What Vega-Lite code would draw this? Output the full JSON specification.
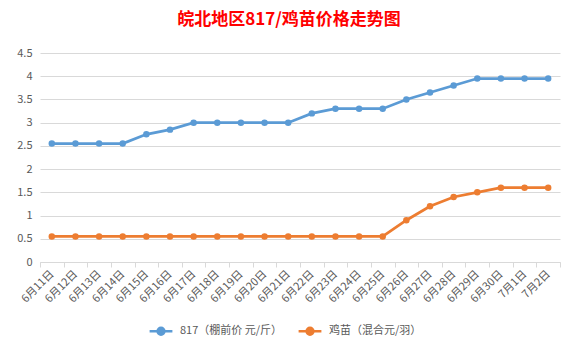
{
  "$schema": "https://vega.github.io/schema/vega-lite/v6.json",
  "width": 520,
  "height": 209,
  "autosize": {"type": "none"},
  "padding": {"left": 40, "top": 53, "right": 18, "bottom": 94},
  "background": "white",
  "config": {
    "font": "Noto Sans CJK SC",
    "view": {"stroke": null}
  },
  "title": {
    "text": "皖北地区817/鸡苗价格走势图",
    "color": "#FF0000",
    "fontSize": 17,
    "fontWeight": "bold",
    "font": "Noto Sans CJK SC",
    "anchor": "middle",
    "dx": -11,
    "offset": 18
  },
  "data": {
    "values": [
      {"date": "6月11日", "series": "817（棚前价 元/斤）", "value": 2.55},
      {"date": "6月12日", "series": "817（棚前价 元/斤）", "value": 2.55},
      {"date": "6月13日", "series": "817（棚前价 元/斤）", "value": 2.55},
      {"date": "6月14日", "series": "817（棚前价 元/斤）", "value": 2.55},
      {"date": "6月15日", "series": "817（棚前价 元/斤）", "value": 2.75},
      {"date": "6月16日", "series": "817（棚前价 元/斤）", "value": 2.85},
      {"date": "6月17日", "series": "817（棚前价 元/斤）", "value": 3.0},
      {"date": "6月18日", "series": "817（棚前价 元/斤）", "value": 3.0},
      {"date": "6月19日", "series": "817（棚前价 元/斤）", "value": 3.0},
      {"date": "6月20日", "series": "817（棚前价 元/斤）", "value": 3.0},
      {"date": "6月21日", "series": "817（棚前价 元/斤）", "value": 3.0},
      {"date": "6月22日", "series": "817（棚前价 元/斤）", "value": 3.2},
      {"date": "6月23日", "series": "817（棚前价 元/斤）", "value": 3.3},
      {"date": "6月24日", "series": "817（棚前价 元/斤）", "value": 3.3},
      {"date": "6月25日", "series": "817（棚前价 元/斤）", "value": 3.3},
      {"date": "6月26日", "series": "817（棚前价 元/斤）", "value": 3.5},
      {"date": "6月27日", "series": "817（棚前价 元/斤）", "value": 3.65},
      {"date": "6月28日", "series": "817（棚前价 元/斤）", "value": 3.8},
      {"date": "6月29日", "series": "817（棚前价 元/斤）", "value": 3.95},
      {"date": "6月30日", "series": "817（棚前价 元/斤）", "value": 3.95},
      {"date": "7月1日", "series": "817（棚前价 元/斤）", "value": 3.95},
      {"date": "7月2日", "series": "817（棚前价 元/斤）", "value": 3.95},
      {"date": "6月11日", "series": "鸡苗（混合元/羽）", "value": 0.55},
      {"date": "6月12日", "series": "鸡苗（混合元/羽）", "value": 0.55},
      {"date": "6月13日", "series": "鸡苗（混合元/羽）", "value": 0.55},
      {"date": "6月14日", "series": "鸡苗（混合元/羽）", "value": 0.55},
      {"date": "6月15日", "series": "鸡苗（混合元/羽）", "value": 0.55},
      {"date": "6月16日", "series": "鸡苗（混合元/羽）", "value": 0.55},
      {"date": "6月17日", "series": "鸡苗（混合元/羽）", "value": 0.55},
      {"date": "6月18日", "series": "鸡苗（混合元/羽）", "value": 0.55},
      {"date": "6月19日", "series": "鸡苗（混合元/羽）", "value": 0.55},
      {"date": "6月20日", "series": "鸡苗（混合元/羽）", "value": 0.55},
      {"date": "6月21日", "series": "鸡苗（混合元/羽）", "value": 0.55},
      {"date": "6月22日", "series": "鸡苗（混合元/羽）", "value": 0.55},
      {"date": "6月23日", "series": "鸡苗（混合元/羽）", "value": 0.55},
      {"date": "6月24日", "series": "鸡苗（混合元/羽）", "value": 0.55},
      {"date": "6月25日", "series": "鸡苗（混合元/羽）", "value": 0.55},
      {"date": "6月26日", "series": "鸡苗（混合元/羽）", "value": 0.9},
      {"date": "6月27日", "series": "鸡苗（混合元/羽）", "value": 1.2},
      {"date": "6月28日", "series": "鸡苗（混合元/羽）", "value": 1.4},
      {"date": "6月29日", "series": "鸡苗（混合元/羽）", "value": 1.5},
      {"date": "6月30日", "series": "鸡苗（混合元/羽）", "value": 1.6},
      {"date": "7月1日", "series": "鸡苗（混合元/羽）", "value": 1.6},
      {"date": "7月2日", "series": "鸡苗（混合元/羽）", "value": 1.6}
    ]
  },
  "encoding": {
    "x": {
      "field": "date",
      "type": "nominal",
      "sort": null,
      "scale": {"type": "band", "paddingInner": 0, "paddingOuter": 0},
      "axis": {
        "title": null,
        "labelAngle": -45,
        "labelAlign": "right",
        "labelBaseline": "middle",
        "labelColor": "#595959",
        "labelFontSize": 11,
        "labelPadding": 5,
        "tickBand": "extent",
        "tickColor": "#D9D9D9",
        "tickSize": 5,
        "domainColor": "#D9D9D9",
        "grid": false
      }
    },
    "y": {
      "field": "value",
      "type": "quantitative",
      "scale": {"domain": [0, 4.5], "nice": false},
      "axis": {
        "title": null,
        "values": [0, 0.5, 1, 1.5, 2, 2.5, 3, 3.5, 4, 4.5],
        "format": "~g",
        "labelColor": "#595959",
        "labelFontSize": 11,
        "labelPadding": 8,
        "ticks": false,
        "domain": false,
        "gridColor": "#D9D9D9",
        "gridWidth": 1
      }
    },
    "color": {
      "field": "series",
      "type": "nominal",
      "scale": {
        "domain": ["817（棚前价 元/斤）", "鸡苗（混合元/羽）"],
        "range": ["#5B9BD5", "#ED7D31"]
      },
      "legend": {
        "title": null,
        "orient": "none",
        "direction": "horizontal",
        "legendX": 108,
        "legendY": 265,
        "labelColor": "#595959",
        "labelFontSize": 11,
        "symbolType": "M-1,0L1,0M-0.3,0A0.3,0.3 0 1,1 0.3,0A0.3,0.3 0 1,1 -0.3,0Z",
        "symbolSize": 520,
        "symbolStrokeWidth": 2.5,
        "columnPadding": 10,
        "labelOffset": 6
      }
    }
  },
  "layer": [
    {
      "mark": {"type": "line", "strokeWidth": 2.75}
    },
    {
      "mark": {"type": "point", "filled": true, "size": 42, "opacity": 1}
    }
  ]
}
